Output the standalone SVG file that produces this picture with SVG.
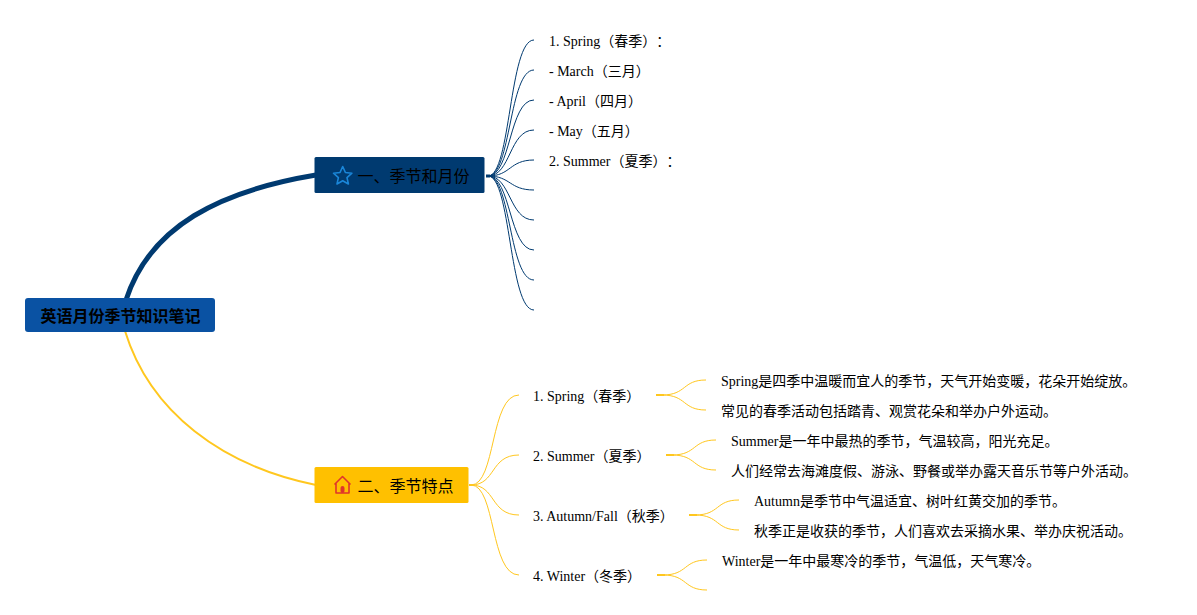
<svg xmlns="http://www.w3.org/2000/svg" width="1197" height="615" viewBox="0 0 1197 615">
<style>
text{font-family:"Liberation Serif","Noto Sans CJK SC",serif;fill:#000;text-spacing-trim:space-all;}
.leaf{font-size:14px;}
.branch{font-size:16px;font-family:"Noto Sans CJK SC","Liberation Sans",sans-serif;}
.root{font-size:16px;font-weight:700;font-family:"Noto Sans CJK SC","Liberation Sans",sans-serif;}
.b{fill:none;stroke:#003a70;stroke-width:1;}
.y{fill:none;stroke:#ffc71f;stroke-width:1;}
.s{fill:none;stroke-width:2;}
</style>
<g id="connectors">
<path d="M126 300C150 226 220 191 316 175" fill="none" stroke="#003a70" stroke-width="5"/>
<path d="M125 331C150 412 222 466 316 485" fill="none" stroke="#ffc71f" stroke-width="2"/>
<path class="b" style="stroke-width:3" d="M486 176H490"/>
<path class="b" d="M488 176C511 176 509 40 534 40"/>
<path class="b" d="M488 176C511 176 509 70 534 70"/>
<path class="b" d="M488 176C511 176 509 100 534 100"/>
<path class="b" d="M488 176C511 176 509 130 534 130"/>
<path class="b" d="M488 176C511 176 509 160 534 160"/>
<path class="b" d="M488 176C511 176 509 190 534 190"/>
<path class="b" d="M488 176C511 176 509 220 534 220"/>
<path class="b" d="M488 176C511 176 509 250 534 250"/>
<path class="b" d="M488 176C511 176 509 280 534 280"/>
<path class="b" d="M488 176C511 176 509 310 534 310"/>
<path class="y" style="stroke-width:2" d="M469 485H474"/>
<path class="y" d="M471 485C496 485 490 395 519 395"/>
<path class="y" d="M471 485C496 485 490 455 519 455"/>
<path class="y" d="M471 485C496 485 490 515 519 515"/>
<path class="y" d="M471 485C496 485 490 575 519 575"/>
<path class="y s" d="M656 395H664"/>
<path class="y" d="M662 395C687 395 682 380 706 380"/>
<path class="y" d="M662 395C687 395 682 410 706 410"/>
<path class="y s" d="M666 455H674"/>
<path class="y" d="M672 455C697 455 692 440 716 440"/>
<path class="y" d="M672 455C697 455 692 470 716 470"/>
<path class="y s" d="M689 515H697"/>
<path class="y" d="M695 515C720 515 715 500 739 500"/>
<path class="y" d="M695 515C720 515 715 530 739 530"/>
<path class="y s" d="M657 575H665"/>
<path class="y" d="M663 575C688 575 683 560 707 560"/>
<path class="y" d="M663 575C688 575 683 590 707 590"/>
</g>
<g id="root"><rect x="25" y="298" width="190" height="34" rx="3" fill="#0a52a3"/><text class="root" x="120.500" y="322" text-anchor="middle">英语月份季节知识笔记</text></g>
<g id="branch1"><rect x="314.500" y="157" width="170" height="36" rx="1.500" fill="#003a70"/>
<path d="M342.700 166.500l2.700 6 6.500.7-4.900 4.400 1.400 6.400-5.700-3.300-5.700 3.300 1.400-6.400-4.900-4.400 6.500-.7z" fill="none" stroke="#1a86d8" stroke-width="1.600" stroke-linejoin="round"/>
<text class="branch" x="357.500" y="182">一、季节和月份</text></g>
<g id="branch2"><rect x="314.500" y="467" width="154" height="36" rx="1.500" fill="#ffc000"/>
<path d="M334.500 484.500l8-8 8 8M336 483v10h13v-10" fill="none" stroke="#e0352b" stroke-width="1.600" stroke-linejoin="round"/><rect x="340.500" y="486" width="4" height="7" rx="2" fill="#e0352b"/>
<text class="branch" x="357.500" y="492">二、季节特点</text></g>
<g id="months">
<text class="leaf" x="549" y="46">1. Spring（春季）：</text>
<text class="leaf" x="549" y="76">- March（三月）</text>
<text class="leaf" x="549" y="106">- April（四月）</text>
<text class="leaf" x="549" y="136">- May（五月）</text>
<text class="leaf" x="549" y="166">2. Summer（夏季）：</text>
</g>
<g id="seasons">
<text class="leaf" x="533" y="401">1. Spring（春季）</text>
<text class="leaf" x="533" y="461">2. Summer（夏季）</text>
<text class="leaf" x="533" y="521">3. Autumn/Fall（秋季）</text>
<text class="leaf" x="533" y="581">4. Winter（冬季）</text>
</g>
<g id="details">
<text class="leaf" x="721" y="386">Spring是四季中温暖而宜人的季节，天气开始变暖，花朵开始绽放。</text>
<text class="leaf" x="721" y="416">常见的春季活动包括踏青、观赏花朵和举办户外运动。</text>
<text class="leaf" x="731" y="446">Summer是一年中最热的季节，气温较高，阳光充足。</text>
<text class="leaf" x="731" y="476">人们经常去海滩度假、游泳、野餐或举办露天音乐节等户外活动。</text>
<text class="leaf" x="754" y="506">Autumn是季节中气温适宜、树叶红黄交加的季节。</text>
<text class="leaf" x="754" y="536">秋季正是收获的季节，人们喜欢去采摘水果、举办庆祝活动。</text>
<text class="leaf" x="722" y="566">Winter是一年中最寒冷的季节，气温低，天气寒冷。</text>
</g>
</svg>
